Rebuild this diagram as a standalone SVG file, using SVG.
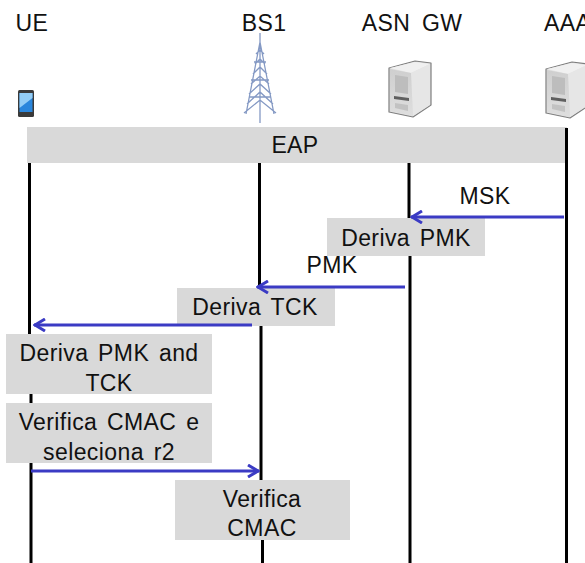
<svg xmlns="http://www.w3.org/2000/svg" width="585" height="563" viewBox="0 0 585 563">
<style>
text{font-family:"Liberation Sans",Arial,sans-serif;font-size:23px;fill:#111;text-anchor:middle;letter-spacing:.4px;word-spacing:3px}
.life{stroke:#000;stroke-width:3;fill:none}
.msg{stroke:#3b3bc4;stroke-width:3;fill:none}
.box{fill:#d9d9d9}
.tw{stroke:#8499c4;stroke-width:1.300;fill:none}
</style>
<defs>
<marker id="ah" viewBox="0 0 14 14" refX="13" refY="7" markerWidth="14" markerHeight="14" markerUnits="userSpaceOnUse" orient="auto">
<path d="M2 1 L12 7 L2 13" fill="none" stroke="#3b3bc4" stroke-width="3"/>
</marker>
<linearGradient id="srv" x1="0" y1="0" x2="0" y2="1"><stop offset="0" stop-color="#cfcfcf"/><stop offset="1" stop-color="#dedede"/></linearGradient>
<g id="server">
<path d="M0 7 L26 0 L42 2 L42 44 L24 56 L0 51Z" fill="#e2e2e2" stroke="#7f7f7f" stroke-width="1.200" stroke-linejoin="round"/>
<path d="M1 7 L26 1 L41 3 L22 12Z" fill="#f0f0f0"/>
<path d="M22 12 L41 3 L41 44 L24 55Z" fill="#e6e6e6"/>
<path d="M1 8 L22 12 L24 55 L1 50Z" fill="url(#srv)"/>
<path d="M6 14 L19 16 L19 33 L6 31Z" fill="#bdbdbd"/>
<path d="M5 35 L20 37 L20 40 L5 38Z" fill="#5f5f5f"/>
<path d="M6 42 L19 44 L19 50 L6 47Z" fill="#c2c2c2"/>
</g>
</defs>
<g id="node-ue"><text x="32" y="31">UE</text>
<rect x="18" y="90" width="16" height="27" rx="1.500" fill="#3a3a3a"/>
<rect x="19.500" y="93" width="13" height="19" fill="#2a86dc"/>
<path d="M19.500 93H32.500V98L19.500 108Z" fill="#93cdf6"/></g>
<g id="node-bs1"><text x="264" y="31">BS1</text>
<path class="tw" d="M260 33V123M260 42L246 114M260 42L274 114M244 113L260 100L276 113M247 104L260 92L273 104M249 94L260 84L271 94M251 84L260 76L269 84M253 74L260 67L267 74M255 64L260 59L265 64M256 54L260 50L264 54M249 97H271M251 80H269M254 62H266"/>
</g>
<g id="node-asngw"><text x="412" y="31" style="word-spacing:5px">ASN GW</text><use href="#server" x="389" y="61"/></g>
<g id="node-aaa"><text x="544" y="31" style="text-anchor:start">AAA</text><use href="#server" x="546" y="62"/></g>
<g id="node-eap"><rect class="box" x="27" y="127" width="540" height="36"/><text x="295" y="153">EAP</text></g>
<g id="node-msk"><text x="485" y="204">MSK</text></g>
<g id="node-derivapmk"><rect class="box" x="327" y="218" width="158" height="38"/><text x="406" y="246">Deriva PMK</text></g>
<g id="node-pmk"><text x="332" y="273">PMK</text></g>
<g id="node-derivatck"><rect class="box" x="177" y="288" width="158" height="38"/><text x="255" y="315">Deriva TCK</text></g>
<g id="node-derivapmktck"><rect class="box" x="6" y="334" width="206" height="60"/><text x="109" y="361">Deriva PMK and</text><text x="109" y="391">TCK</text></g>
<g id="node-verifica"><rect class="box" x="6" y="403" width="206" height="60"/><text x="109" y="430">Verifica CMAC e</text><text x="109" y="460">seleciona r2</text></g>
<g id="node-verificacmac"><rect class="box" x="175" y="480" width="175" height="60"/><text x="262" y="507">Verifica</text><text x="262" y="536">CMAC</text></g>
<g id="connectors">
<path class="life" d="M29.500 163V334M31 394V403M31 463V563"/>
<path class="life" d="M259.500 163V288M261 326V480M262.500 540V563"/>
<path class="life" d="M409 163V218M410 256V563"/>
<path class="life" d="M566.500 128V563"/>
<path class="msg" d="M564 217H411" marker-end="url(#ah)"/>
<path class="msg" d="M405 287H257" marker-end="url(#ah)"/>
<path class="msg" d="M252 325H34" marker-end="url(#ah)"/>
<path class="msg" d="M31 471H259" marker-end="url(#ah)"/>
</g>
</svg>
